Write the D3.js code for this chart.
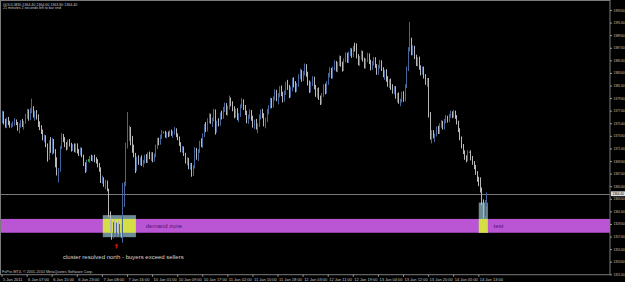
<!DOCTYPE html>
<html><head><meta charset="utf-8">
<script src="https://cdn.jsdelivr.net/npm/d3@7"></script>
<style>html,body{margin:0;padding:0;background:#000;overflow:hidden}svg{display:block}text{font-family:"Liberation Sans",Arial,sans-serif}</style>
</head><body>
<script>
const barOpen=[1376.2,1377.0,1375.8,1375.2,1376.2,1375.6,1375.1,1375.3,1375.5,1376.0,
1375.4,1374.7,1375.2,1375.9,1375.3,1375.8,1376.8,1377.5,1376.4,1377.7,
1378.0,1376.9,1377.3,1376.5,1375.4,1374.9,1374.2,1373.2,1373.5,1372.0,
1370.0,1372.6,1371.2,1372.9,1371.0,1369.0,1367.8,1368.2,1371.8,1373.6,
1372.9,1372.1,1371.6,1372.7,1372.2,1371.4,1372.0,1371.3,1372.1,1371.0,
1370.7,1371.5,1370.4,1369.0,1368.1,1369.6,1369.6,1370.1,1369.9,1370.3,
1369.7,1369.5,1368.9,1368.2,1366.5,1366.9,1365.8,1366.3,1365.0,1361.2,
1359.0,1357.8,1359.5,1358.7,1359.4,1358.4,1359.1,1357.9,1365.7,1365.9,
1372.0,1373.5,1374.8,1372.5,1371.3,1370.6,1368.3,1369.8,1369.3,1370.0,
1369.1,1369.5,1370.3,1369.6,1370.8,1370.1,1370.7,1369.8,1370.5,1371.9,
1372.9,1372.4,1373.5,1374.2,1374.2,1373.6,1373.9,1373.7,1374.3,1373.9,
1374.2,1374.6,1373.7,1373.2,1372.3,1371.3,1371.7,1370.6,1369.5,1369.9,
1368.6,1369.0,1367.4,1368.6,1371.4,1370.1,1371.2,1372.5,1372.0,1373.7,
1375.1,1374.6,1376.0,1376.8,1375.9,1376.2,1377.5,1374.4,1375.7,1375.4,
1377.0,1376.5,1377.9,1378.5,1377.2,1378.1,1379.4,1378.6,1377.8,1376.7,
1377.6,1376.4,1376.9,1378.3,1379.1,1378.0,1377.3,1375.9,1376.7,1377.4,
1376.3,1375.2,1375.9,1374.9,1375.3,1376.6,1377.5,1376.8,1375.5,1376.1,
1377.6,1378.2,1379.3,1378.4,1379.6,1380.5,1379.5,1380.0,1381.1,1380.2,
1379.3,1380.4,1381.8,1381.2,1380.0,1381.0,1382.4,1381.7,1380.9,1381.7,
1383.0,1383.8,1382.6,1383.5,1384.7,1383.4,1382.0,1380.8,1381.9,1382.7,
1381.3,1380.1,1380.9,1379.6,1378.9,1380.1,1381.5,1380.6,1382.0,1383.2,
1384.1,1383.0,1384.3,1385.2,1384.1,1385.0,1386.0,1384.9,1384.2,1385.6,
1386.5,1385.5,1386.7,1387.2,1386.4,1387.6,1387.3,1386.2,1385.1,1386.0,
1386.8,1385.7,1384.6,1385.6,1386.4,1385.3,1384.4,1385.2,1385.8,1384.7,
1383.6,1384.6,1385.3,1384.2,1383.2,1383.8,1382.5,1381.7,1382.3,1381.2,
1380.6,1381.2,1379.8,1380.1,1379.0,1379.2,1380.3,1379.4,1381.5,1384.2,
1387.3,1388.6,1386.8,1387.6,1386.1,1385.0,1385.8,1384.4,1383.6,1384.3,
1383.0,1382.0,1382.5,1377.0,1373.6,1374.2,1373.5,1373.8,1374.8,1374.2,
1375.3,1375.7,1374.9,1376.0,1376.5,1376.0,1376.8,1377.2,1376.7,1377.4,
1376.6,1375.7,1374.5,1373.2,1371.9,1371.0,1370.1,1369.8,1371.0,1371.0,
1370.0,1369.3,1368.6,1367.7,1366.6,1365.9,1365.0,1363.0,1361.2,1362.9];
const barHigh=[1377.6,1377.5,1376.3,1376.5,1376.6,1376.0,1375.6,1375.9,1376.4,1376.2,
1375.8,1375.6,1376.1,1376.3,1376.0,1377.1,1377.9,1377.8,1378.0,1379.5,
1378.3,1377.6,1377.7,1377.0,1375.9,1375.3,1374.6,1373.8,1373.7,1372.4,
1372.9,1373.4,1373.3,1373.1,1371.5,1370.2,1368.5,1372.0,1374.0,1373.9,
1373.4,1372.6,1373.0,1373.1,1372.5,1372.3,1372.4,1372.4,1372.4,1371.5,
1371.8,1371.7,1370.6,1369.4,1369.8,1369.9,1370.4,1370.6,1370.5,1370.6,
1370.2,1369.9,1369.3,1368.6,1367.3,1367.0,1366.6,1366.5,1365.2,1361.6,
1360.3,1359.9,1360.2,1359.8,1360.0,1359.6,1359.5,1366.1,1366.3,1372.5,
1377.4,1375.2,1375.0,1373.6,1372.2,1370.9,1370.3,1370.5,1370.2,1370.5,
1369.8,1370.6,1370.7,1371.0,1371.1,1371.0,1371.0,1370.8,1372.2,1373.3,
1373.3,1373.8,1374.5,1374.3,1374.4,1374.2,1374.3,1374.5,1374.6,1374.4,
1375.0,1374.8,1374.0,1373.5,1372.6,1372.0,1371.9,1370.9,1370.2,1370.1,
1369.3,1369.3,1368.9,1371.8,1371.7,1371.5,1372.8,1373.2,1374.0,1375.5,
1375.8,1376.4,1377.2,1377.1,1376.5,1377.9,1377.8,1376.0,1376.4,1377.3,
1377.6,1378.2,1378.9,1378.8,1378.4,1380.0,1379.7,1379.1,1378.3,1377.9,
1378.0,1377.2,1378.6,1379.6,1379.4,1378.5,1377.6,1377.0,1377.8,1377.7,
1376.8,1376.2,1376.3,1375.6,1377.0,1377.8,1377.9,1377.2,1376.5,1377.9,
1378.5,1379.7,1379.6,1379.9,1381.0,1380.9,1380.4,1381.5,1381.6,1380.6,
1380.8,1382.2,1382.5,1381.7,1381.4,1382.8,1382.9,1382.3,1382.0,1383.4,
1384.3,1384.1,1383.9,1385.1,1385.0,1383.8,1382.4,1382.2,1383.1,1383.0,
1381.7,1381.2,1381.3,1380.0,1380.4,1381.8,1381.9,1382.3,1383.6,1384.5,
1384.4,1384.6,1385.6,1385.5,1385.3,1386.4,1386.3,1385.4,1385.9,1386.9,
1386.8,1387.0,1387.6,1387.5,1387.9,1388.4,1388.3,1386.6,1386.3,1387.2,
1387.1,1386.0,1385.9,1386.8,1386.7,1385.7,1385.5,1386.1,1386.1,1385.0,
1384.9,1385.7,1385.6,1384.5,1384.1,1384.2,1383.1,1382.6,1382.7,1381.8,
1381.5,1381.5,1380.4,1380.5,1379.5,1380.6,1380.7,1381.8,1384.6,1387.7,
1391.7,1389.2,1388.0,1387.9,1386.5,1386.1,1386.2,1384.8,1384.6,1384.6,
1383.4,1382.8,1382.8,1377.4,1374.5,1374.5,1374.0,1375.1,1375.2,1375.6,
1376.1,1376.0,1376.3,1376.9,1376.8,1377.1,1377.6,1377.5,1377.7,1377.6,
1376.9,1376.0,1374.8,1373.5,1372.3,1371.3,1370.5,1371.3,1371.1,1371.3,
1370.4,1369.6,1369.0,1368.0,1367.1,1367.0,1365.4,1363.5,1363.4,1364.6];
const barLow=[1375.6,1375.4,1374.9,1374.8,1375.3,1374.9,1374.8,1375.0,1375.2,1375.3,
1374.4,1374.0,1374.9,1375.0,1374.6,1375.5,1376.3,1376.0,1376.1,1377.2,
1376.5,1376.0,1376.2,1375.0,1374.5,1373.9,1372.9,1372.6,1371.8,1369.5,
1369.8,1370.9,1370.6,1370.8,1368.6,1367.3,1366.2,1367.9,1371.5,1372.6,
1371.8,1371.3,1371.4,1371.9,1371.1,1371.2,1371.0,1370.9,1370.8,1370.4,
1370.5,1370.2,1368.8,1367.7,1367.9,1369.5,1369.3,1369.6,1369.5,1369.4,
1369.2,1368.6,1367.9,1366.1,1366.0,1365.5,1365.1,1364.8,1360.7,1358.4,
1357.1,1357.3,1358.3,1357.6,1358.0,1357.5,1357.4,1356.6,1362.3,1365.6,
1371.6,1372.8,1372.1,1370.9,1370.2,1367.7,1368.0,1369.0,1368.9,1368.8,
1368.6,1369.2,1369.3,1369.3,1369.9,1369.6,1369.4,1369.5,1370.2,1371.5,
1372.1,1372.2,1373.1,1374.0,1373.3,1373.2,1373.4,1373.5,1373.6,1373.3,
1373.8,1373.4,1372.9,1372.0,1371.0,1370.9,1370.4,1369.2,1368.9,1368.3,
1368.2,1367.1,1367.2,1368.4,1369.8,1369.6,1370.9,1371.8,1371.7,1373.4,
1374.2,1374.3,1375.6,1375.5,1375.0,1375.9,1373.8,1374.1,1375.1,1375.2,
1376.2,1376.3,1377.4,1376.9,1376.8,1377.8,1378.3,1377.5,1376.4,1376.5,
1376.1,1375.8,1376.6,1378.0,1377.7,1376.9,1375.6,1375.5,1376.3,1376.0,
1374.9,1374.7,1374.6,1374.0,1375.0,1376.2,1376.4,1375.1,1374.8,1375.8,
1377.0,1377.9,1378.0,1378.1,1379.2,1379.1,1378.6,1379.7,1379.9,1378.9,
1379.0,1380.1,1380.9,1379.6,1379.7,1380.7,1381.3,1380.5,1380.6,1381.4,
1382.6,1382.2,1382.3,1383.2,1383.0,1381.6,1380.4,1380.5,1381.5,1381.0,
1379.8,1379.6,1379.3,1378.5,1378.6,1379.8,1380.2,1380.3,1381.7,1382.9,
1382.7,1382.7,1384.0,1383.8,1383.7,1384.7,1384.6,1383.8,1383.9,1385.3,
1385.2,1385.2,1386.3,1386.0,1386.1,1387.0,1385.9,1384.8,1384.7,1385.7,
1385.4,1384.3,1384.3,1385.3,1385.0,1384.0,1384.1,1384.8,1384.4,1383.3,
1383.3,1384.3,1383.9,1382.9,1382.5,1382.2,1381.4,1381.2,1380.9,1380.3,
1380.2,1379.5,1378.9,1378.7,1378.3,1378.9,1379.0,1379.1,1381.2,1383.9,
1387.0,1386.4,1386.4,1385.8,1384.7,1384.6,1384.1,1383.2,1383.3,1382.7,
1381.7,1381.4,1376.5,1373.0,1372.4,1373.2,1372.6,1373.5,1373.9,1373.9,
1374.9,1374.6,1374.6,1375.6,1375.7,1375.8,1376.5,1376.4,1376.5,1376.3,
1375.4,1374.2,1372.9,1371.6,1370.7,1369.8,1369.4,1369.6,1370.9,1369.7,
1369.0,1368.3,1367.4,1366.3,1365.6,1364.6,1362.6,1360.5,1360.8,1362.4];
const barClose=[1377.0,1375.8,1375.2,1376.2,1375.6,1375.1,1375.3,1375.5,1376.0,1375.4,
1374.7,1375.2,1375.9,1375.3,1375.8,1376.8,1377.5,1376.4,1377.7,1378.0,
1376.9,1377.3,1376.5,1375.4,1374.9,1374.2,1373.2,1373.5,1372.0,1370.0,
1372.6,1371.2,1372.9,1371.0,1369.0,1367.8,1368.2,1371.8,1373.6,1372.9,
1372.1,1371.6,1372.7,1372.2,1371.4,1372.0,1371.3,1372.1,1371.0,1370.7,
1371.5,1370.4,1369.0,1368.1,1369.6,1369.6,1370.1,1369.9,1370.3,1369.7,
1369.5,1368.9,1368.2,1366.5,1366.9,1365.8,1366.3,1365.0,1361.2,1359.0,
1357.8,1359.5,1358.7,1359.4,1358.4,1359.1,1357.9,1365.7,1365.9,1372.0,
1373.5,1374.8,1372.5,1371.3,1370.6,1368.3,1369.8,1369.3,1370.0,1369.1,
1369.5,1370.3,1369.6,1370.8,1370.1,1370.7,1369.8,1370.5,1371.9,1372.9,
1372.4,1373.5,1374.2,1374.2,1373.6,1373.9,1373.7,1374.3,1373.9,1374.2,
1374.6,1373.7,1373.2,1372.3,1371.3,1371.7,1370.6,1369.5,1369.9,1368.6,
1369.0,1367.4,1368.6,1371.4,1370.1,1371.2,1372.5,1372.0,1373.7,1375.1,
1374.6,1376.0,1376.8,1375.9,1376.2,1377.5,1374.4,1375.7,1375.4,1377.0,
1376.5,1377.9,1378.5,1377.2,1378.1,1379.4,1378.6,1377.8,1376.7,1377.6,
1376.4,1376.9,1378.3,1379.1,1378.0,1377.3,1375.9,1376.7,1377.4,1376.3,
1375.2,1375.9,1374.9,1375.3,1376.6,1377.5,1376.8,1375.5,1376.1,1377.6,
1378.2,1379.3,1378.4,1379.6,1380.5,1379.5,1380.0,1381.1,1380.2,1379.3,
1380.4,1381.8,1381.2,1380.0,1381.0,1382.4,1381.7,1380.9,1381.7,1383.0,
1383.8,1382.6,1383.5,1384.7,1383.4,1382.0,1380.8,1381.9,1382.7,1381.3,
1380.1,1380.9,1379.6,1378.9,1380.1,1381.5,1380.6,1382.0,1383.2,1384.1,
1383.0,1384.3,1385.2,1384.1,1385.0,1386.0,1384.9,1384.2,1385.6,1386.5,
1385.5,1386.7,1387.2,1386.4,1387.6,1387.3,1386.2,1385.1,1386.0,1386.8,
1385.7,1384.6,1385.6,1386.4,1385.3,1384.4,1385.2,1385.8,1384.7,1383.6,
1384.6,1385.3,1384.2,1383.2,1383.8,1382.5,1381.7,1382.3,1381.2,1380.6,
1381.2,1379.8,1380.1,1379.0,1379.2,1380.3,1379.4,1381.5,1384.2,1387.3,
1388.6,1386.8,1387.6,1386.1,1385.0,1385.8,1384.4,1383.6,1384.3,1383.0,
1382.0,1382.5,1377.0,1373.6,1374.2,1373.5,1373.8,1374.8,1374.2,1375.3,
1375.7,1374.9,1376.0,1376.5,1376.0,1376.8,1377.2,1376.7,1377.4,1376.6,
1375.7,1374.5,1373.2,1371.9,1371.0,1370.1,1369.8,1371.0,1371.0,1370.0,
1369.3,1368.6,1367.7,1366.6,1365.9,1365.0,1363.0,1361.2,1362.9,1364.4];

const xTickIndex=[0,16,32,48,64,80,96,112,128,144,160,176,192,208,224,240,256,272,288,304];
const xTickLabels=["5 Jan 2011","6 Jan 07:00","6 Jan 15:00","6 Jan 23:00","7 Jan 08:00","7 Jan 16:00","10 Jan 01:00","10 Jan 09:00","10 Jan 17:00","11 Jan 02:00","11 Jan 10:00","11 Jan 18:00","12 Jan 03:00","12 Jan 11:00","12 Jan 19:00","13 Jan 04:00","13 Jan 12:00","13 Jan 20:00","14 Jan 05:00","14 Jan 13:00"];
const yTickValues=[1351.6,1353.6,1355.6,1357.6,1359.6,1361.6,1363.6,1365.6,1367.6,1369.6,1371.6,1373.6,1375.6,1377.6,1379.6,1381.6,1383.6,1385.6,1387.6,1389.6,1391.6,1393.6];
const bidPrice=1364.40;
const zoneTop=1360.4, zoneBottom=1358.2;
const boxStart=[64.6,304.3], boxEnd=[85.7,310.1], boxTop=[1361.0,1363.0], boxBottom=[1357.5,1358.2];
const headerLines=["GOLD,M30  1364.40 1364.60 1363.80 1364.40","21 minutes 2 seconds left to bar end"];
const copyright="FxPro MT4, \u00a9 2001-2010 MetaQuotes Software Corp.";
const zoneLabel="demand zone", testLabel="test", clusterNote="cluster resolved north - buyers exceed sellers";

const W=625,H=282, plotRight=610, plotBottom=274.7;
const svg=d3.select("body").append("svg").attr("width",W).attr("height",H).style("background","#000");
const x=d3.scaleLinear().domain([0,304]).range([1.5,478.3]);
const y=d3.scaleLinear().domain([1351.6,1393.6]).range([274.3,10]);

// demand zone band
svg.append("rect").attr("x",0.5).attr("width",plotRight-0.5)
  .attr("y",y(zoneTop)).attr("height",y(zoneBottom)-y(zoneTop)).attr("fill","#BA55D3");
// boxes and overlap with the band
boxStart.forEach((s,k)=>{
  const x0=x(s),x1=x(boxEnd[k]);
  svg.append("rect").attr("x",x0).attr("width",x1-x0).attr("y",y(boxTop[k])).attr("height",y(boxBottom[k])-y(boxTop[k])).attr("fill","#6C8B96");
  const t=Math.min(boxTop[k],zoneTop), b=Math.max(boxBottom[k],zoneBottom);
  svg.append("rect").attr("x",x0).attr("width",x1-x0).attr("y",y(t)).attr("height",y(b)-y(t)).attr("fill","#D6DE45");
});

// bid line
svg.append("line").attr("x1",0.5).attr("x2",plotRight).attr("y1",Math.round(y(bidPrice))+0.5).attr("y2",Math.round(y(bidPrice))+0.5)
  .attr("stroke","#777").attr("stroke-width",1);

// bars
const idx=d3.range(barClose.length);
svg.append("g").selectAll("line").data(idx).join("line")
  .attr("x1",i=>Math.round(x(i))+0.5).attr("x2",i=>Math.round(x(i))+0.5)
  .attr("y1",i=>y(barHigh[i])).attr("y2",i=>y(barLow[i]))
  .attr("stroke",i=>barClose[i]>barOpen[i]?"#46659a":(barClose[i]<barOpen[i]?"#b8b8b8":"#32cd32"))
  .attr("stroke-width",1);

// frame
svg.append("rect").attr("x",0.5).attr("y",0.5).attr("width",plotRight-0.5).attr("height",plotBottom-0.5)
  .attr("fill","none").attr("stroke","#7a7a7a").attr("stroke-width",1);

// y axis
const yAxis=d3.axisRight(y).tickValues(yTickValues).tickSize(2).tickPadding(1.5).tickFormat(d=>d.toFixed(2));
const gy=svg.append("g").attr("transform",`translate(${plotRight},0)`).call(yAxis);
gy.select(".domain").remove();
gy.selectAll("line").attr("stroke","#9a9a9a");
gy.selectAll("text").attr("fill","#c8c8c8").style("font-size","3.1px");

// current price marker
const by=y(bidPrice);
svg.append("rect").attr("x",plotRight+1).attr("y",by-2.4).attr("width",W-plotRight-1).attr("height",4.8).attr("fill","#d8dde2");
svg.append("text").attr("x",plotRight+2.5).attr("y",by).attr("dominant-baseline","central").attr("fill","#000").style("font-size","3.1px").text(bidPrice.toFixed(2));

// x axis
const xAxis=d3.axisBottom(x).tickValues(xTickIndex).tickSize(2).tickPadding(1).tickFormat((d,i)=>xTickLabels[i]);
const gx=svg.append("g").attr("transform",`translate(0,${plotBottom})`).call(xAxis);
gx.select(".domain").remove();
gx.selectAll("line").attr("stroke","#9a9a9a");
gx.selectAll("text").attr("text-anchor","start").attr("dx",1).attr("fill","#c8c8c8").style("font-size","4px");

// header
svg.selectAll("text.hdr").data(headerLines).join("text").attr("class","hdr")
  .attr("x",3).attr("y",(d,i)=>5.8+i*3.4).attr("fill","#c8c8c8").style("font-size","3.6px").text(d=>d);
svg.append("text").attr("x",2).attr("y",273.4).attr("fill","#c0c0c0").style("font-size","3.8px").text(copyright);

// annotations
const zoneMid=(zoneTop+zoneBottom)/2;
svg.append("text").attr("x",x(92)).attr("y",y(zoneMid)).attr("dominant-baseline","central").attr("fill","#52127a").style("font-size","6px").text(zoneLabel);
svg.append("text").attr("x",x(313.9)).attr("y",y(zoneMid)).attr("dominant-baseline","central").attr("fill","#52127a").style("font-size","6px").text(testLabel);
svg.append("text").attr("x",x(39.2)).attr("y",y(1354.4)).attr("dominant-baseline","central").attr("fill","#d4d4d4").style("font-size","6px").text(clusterNote);
// red arrow
const ax=x(73.4), ay=y(1356.1);
svg.append("path").attr("d",`M${ax},${ay-2.5} L${ax+2},${ay} L${ax+0.8},${ay} L${ax+0.8},${ay+2.5} L${ax-0.8},${ay+2.5} L${ax-0.8},${ay} L${ax-2},${ay} Z`)
  .attr("fill","#c81010");
</script>
</body></html>
